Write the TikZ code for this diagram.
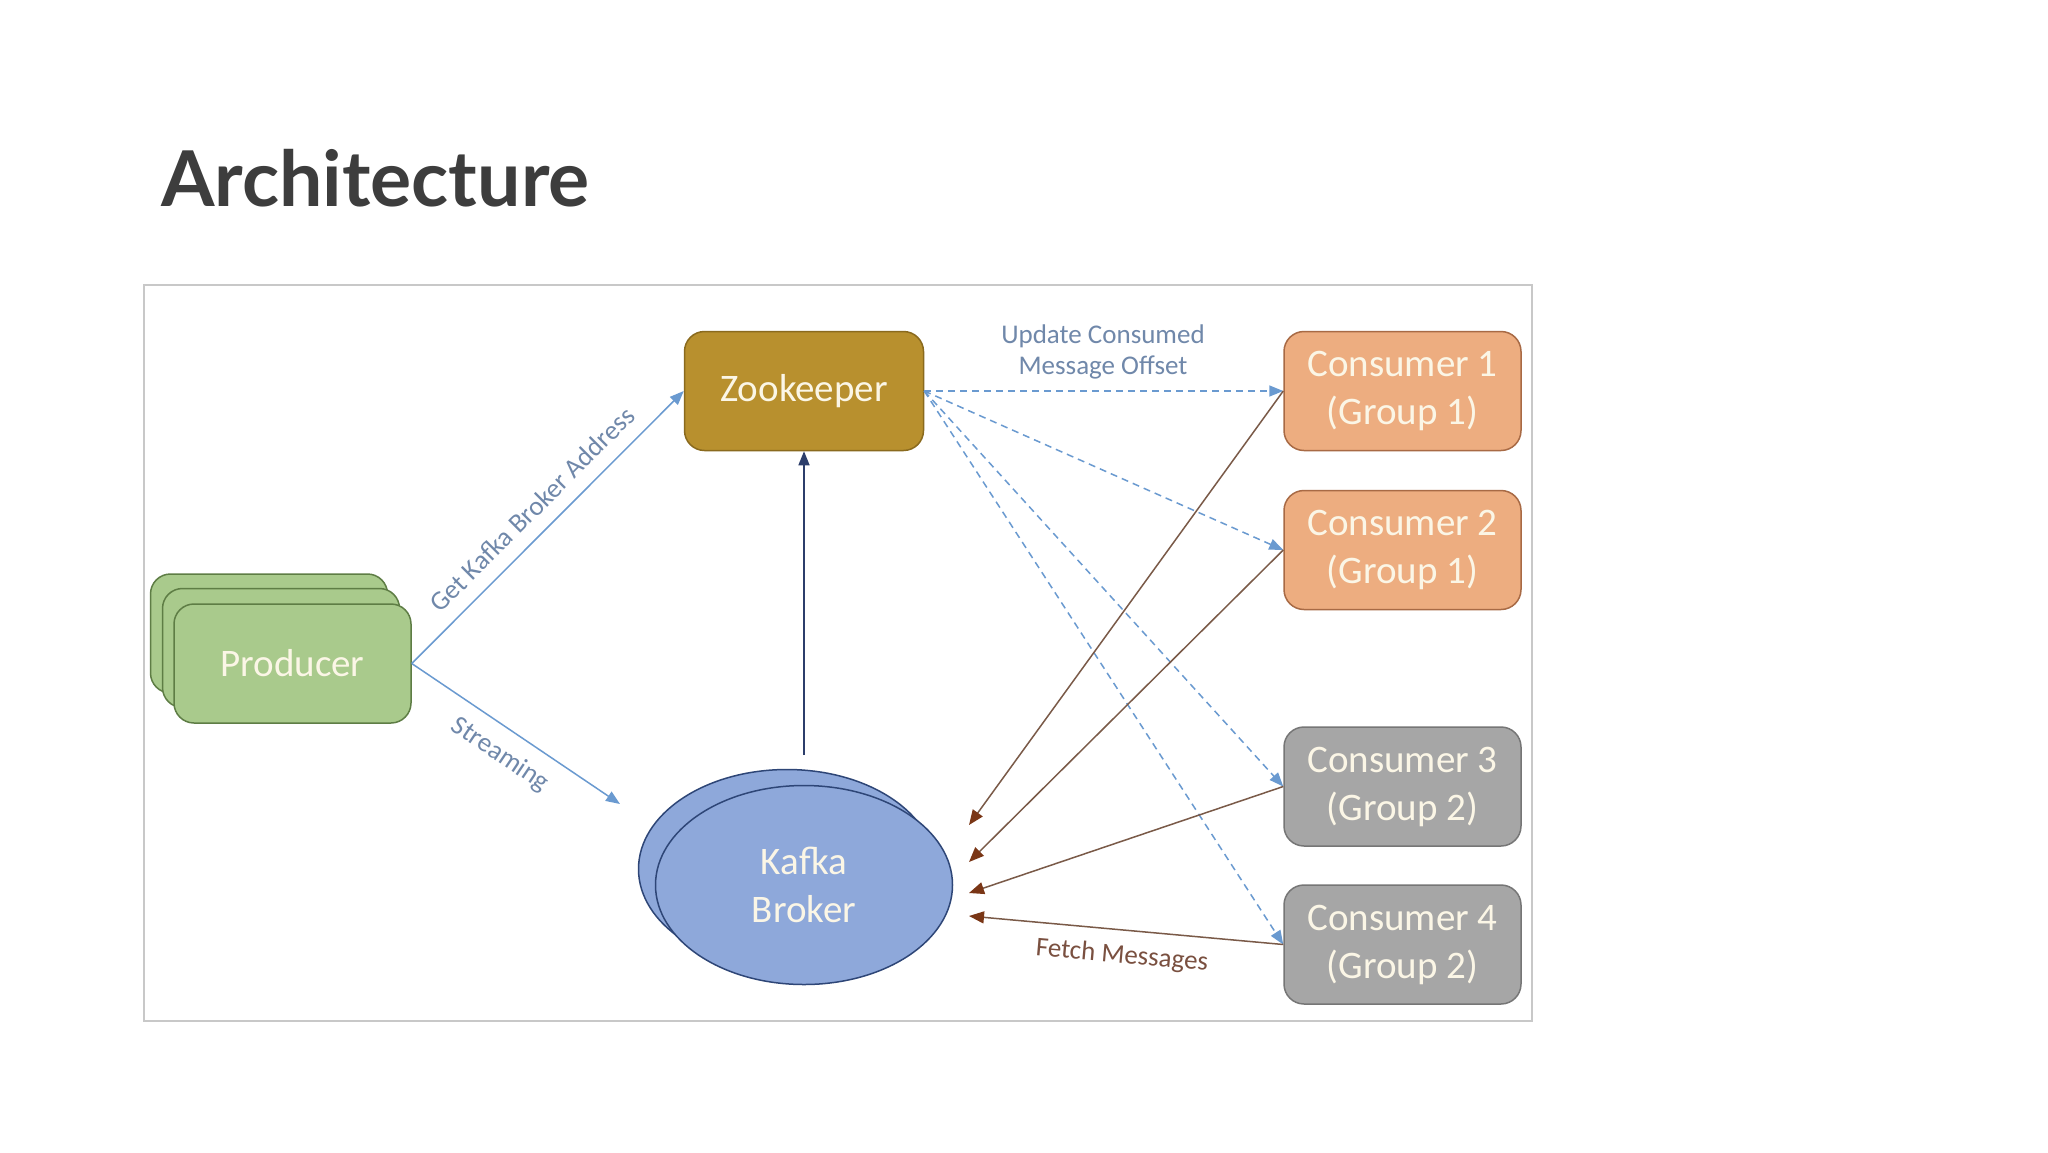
\documentclass[tikz,border=0pt]{standalone}
\usepackage{fontspec}
\setmainfont{Carlito}
\newfontfamily\titlefont{Lato}
\usetikzlibrary{arrows.meta,shapes.geometric}
\definecolor{zoofill}{HTML}{B8902E}
\definecolor{zoodraw}{HTML}{8A6A1E}
\definecolor{prodfill}{HTML}{A9CA8C}
\definecolor{proddraw}{HTML}{5E7D45}
\definecolor{orfill}{HTML}{EDAD80}
\definecolor{ordraw}{HTML}{A86A45}
\definecolor{grfill}{HTML}{A6A6A6}
\definecolor{grdraw}{HTML}{767676}
\definecolor{kfill}{HTML}{8EA8DA}
\definecolor{kdraw}{HTML}{2E4677}
\definecolor{dashblue}{HTML}{6A9AD0}
\definecolor{lblblue}{HTML}{7088AA}
\definecolor{fetchline}{HTML}{7A5A48}
\definecolor{fetchtip}{HTML}{7A3616}
\definecolor{fetchtext}{HTML}{7A5040}
\definecolor{navyarr}{HTML}{2C3E6B}
\definecolor{titlegray}{HTML}{3D3D3D}
\definecolor{framegray}{HTML}{C8C8C8}
\definecolor{boxtext}{HTML}{FBF6E6}
\tikzset{
  box/.style={rounded corners=20pt, minimum width=237pt, minimum height=119pt,
    line width=1.5pt, align=center, inner sep=0pt,
    font=\fontsize{39}{48}\selectfont, text=boxtext},
  zkbox/.style={box, fill=zoofill, draw=zoodraw, minimum width=239pt},
  prodbox/.style={box, fill=prodfill, draw=proddraw},
  orbox/.style={box, fill=orfill, draw=ordraw},
  grbox/.style={box, fill=grfill, draw=grdraw},
  kbroker/.style={ellipse, fill=kfill, draw=kdraw, line width=1.5pt,
    minimum width=297pt, minimum height=199pt, inner sep=0pt, align=center,
    font=\fontsize{39}{48}\selectfont, text=boxtext},
  bluearrow/.style={draw=dashblue, line width=1.5pt, -{Triangle[length=14pt,width=11pt]}},
  dasharrow/.style={bluearrow, dash pattern=on 7pt off 5pt},
  navyarrow/.style={draw=navyarr, line width=1.5pt, -{Triangle[length=14pt,width=11pt]}},
  fetcharrow/.style={draw=fetchline, line width=1.5pt, -{Triangle[length=15pt,width=12pt,color=fetchtip,fill=fetchtip]}},
  lbl/.style={text=lblblue, inner sep=0pt, font=\fontsize{27}{31}\selectfont, align=center},
}
\begin{document}
\begin{tikzpicture}[x=1pt,y=-1pt]
\useasboundingbox[fill=white] (0,0) rectangle (2048,1152);
% title
\node[anchor=base west, inner sep=0pt, text=titlegray,
  font=\titlefont\bfseries\fontsize{77}{80}\selectfont] (title) at (161,206) {Architecture};
% frame
\node[draw=framegray, line width=2pt, minimum width=1388pt, minimum height=736pt, inner sep=0pt] (frame) at (838,653) {};
% nodes
\node[zkbox] (zk) at (804,391) {\raisebox{-3pt}{Zookeeper}};
\node[prodbox] (p3) at (269,633.5) {};
\node[prodbox] (p2) at (281,648) {};
\node[prodbox] (p1) at (292.5,663.5) {Producer};
\node[kbroker] (kb2) at (787,869) {};
\node[kbroker] (kb) at (804,885) {Kafka\\Broker};
\node[orbox] (c1) at (1402.5,391) {\raisebox{-3pt}{Consumer 1}\\\raisebox{-3pt}{(Group 1)}};
\node[orbox] (c2) at (1402.5,550) {\raisebox{-3pt}{Consumer 2}\\\raisebox{-3pt}{(Group 1)}};
\node[grbox] (c3) at (1402.5,786.5) {\raisebox{-3pt}{Consumer 3}\\\raisebox{-3pt}{(Group 2)}};
\node[grbox] (c4) at (1402.5,944.5) {\raisebox{-3pt}{Consumer 4}\\\raisebox{-3pt}{(Group 2)}};
% free ends
\coordinate (sEnd) at (620,804);
\coordinate (kTop) at (804,755);
\coordinate (f1) at (969,825);
\coordinate (f2) at (969,862);
\coordinate (f3) at (969,893);
\coordinate (f4) at (969,916);
% connectors
\draw[bluearrow] (p1.east) -- (zk.west);
\draw[bluearrow] (p1.east) -- (sEnd);
\draw[navyarrow] (kTop) -- (zk.south);
\draw[dasharrow] (zk.east) -- (c1.west);
\draw[dasharrow] (zk.east) -- (c2.west);
\draw[dasharrow] (zk.east) -- (c3.west);
\draw[dasharrow] (zk.east) -- (c4.west);
\draw[fetcharrow] (c1.west) -- (f1);
\draw[fetcharrow] (c2.west) -- (f2);
\draw[fetcharrow] (c3.west) -- (f3);
\draw[fetcharrow] (c4.west) -- (f4);
% labels
\node[lbl, rotate=45] (lget) at (532,509) {Get Kafka Broker Address};
\node[lbl, rotate=-34] (lstream) at (500,755) {Streaming};
\node[lbl] (lupd) at (1103,352) {Update Consumed\\Message Offset};
\node[lbl, text=fetchtext, rotate=-5] (lfetch) at (1122,956) {Fetch Messages};
\end{tikzpicture}
\end{document}
